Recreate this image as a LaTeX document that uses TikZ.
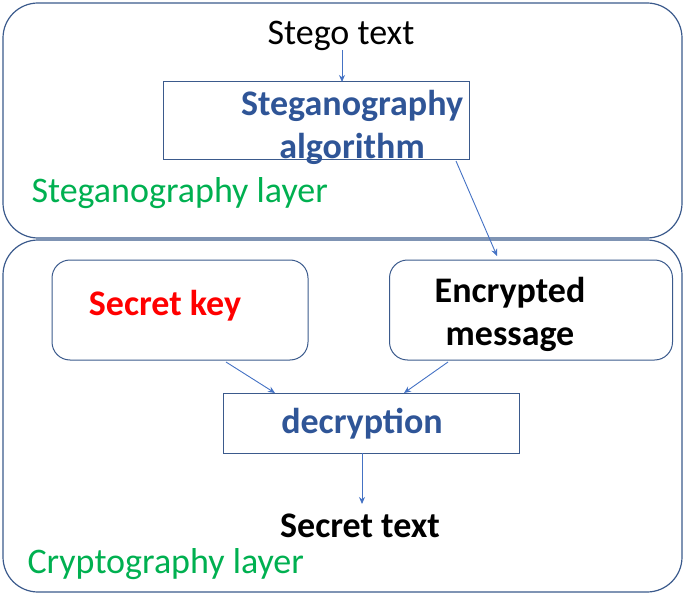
\documentclass[tikz,border=0pt]{standalone}
\usepackage{fontspec}
\setmainfont{Carlito}
\usetikzlibrary{arrows.meta}
\definecolor{frame}{HTML}{3B5A8C}
\definecolor{ln}{HTML}{4472C4}
\definecolor{tblue}{HTML}{2F5597}
\definecolor{tgreen}{HTML}{00B050}
\tikzset{
 outer/.style={draw=frame,line width=1.2pt,rounded corners=35pt},
 rbox/.style={draw=frame,line width=1pt,rounded corners=18pt},
 sbox/.style={draw=frame,line width=1pt},
 arr/.style={draw=ln,line width=0.9pt,-{Stealth[length=7pt,width=6pt]}},
 big/.style={font=\fontsize{36}{40}\selectfont},
 bigb/.style={font=\fontsize{36}{43}\selectfont\bfseries,align=center}
}
\begin{document}
\begin{tikzpicture}[x=1pt,y=-1pt]
\useasboundingbox (0,0) rectangle (685,596);
\draw[outer] (3,3) rectangle (682,238);
\draw[outer] (3,240) rectangle (682,592);
\node[big,anchor=base] (stego) at (341,45) {Stego text};
\node[sbox,minimum width=306,minimum height=78] (alg) at (316,121) {};
\node[bigb,text=tblue] at (352,127) {Steganography\\algorithm};
\node[big,text=tgreen,anchor=base west] (sl) at (28,203) {Steganography layer};
\node[rbox,minimum width=256,minimum height=100] (key) at (180,310) {};
\node[bigb,text=red] at (165,306) {Secret key};
\node[rbox,minimum width=283,minimum height=100] (enc) at (531,310) {};
\node[bigb,text=black] at (510,314) {Encrypted\\message};
\node[sbox,minimum width=296,minimum height=60] (dec) at (371,423) {};
\node[bigb,text=tblue] at (362,424) {decryption};
\node[bigb,anchor=base] (st) at (360,537) {Secret text};
\node[big,text=tgreen,anchor=base west] (cl) at (24,573) {Cryptography layer};
\coordinate (a1) at (342,50);
\coordinate (a2) at (342,82);
\draw[arr] (a1) -- (a2);
\coordinate (b1) at (456,161);
\coordinate (b2) at (497,256);
\draw[arr] (b1) -- (b2);
\coordinate (c1) at (226,362);
\coordinate (c2) at (275,393);
\draw[arr] (c1) -- (c2);
\coordinate (d1) at (448,362);
\coordinate (d2) at (404,393);
\draw[arr] (d1) -- (d2);
\coordinate (e1) at (362,453);
\coordinate (e2) at (362,504);
\draw[arr] (e1) -- (e2);
\end{tikzpicture}
\end{document}
